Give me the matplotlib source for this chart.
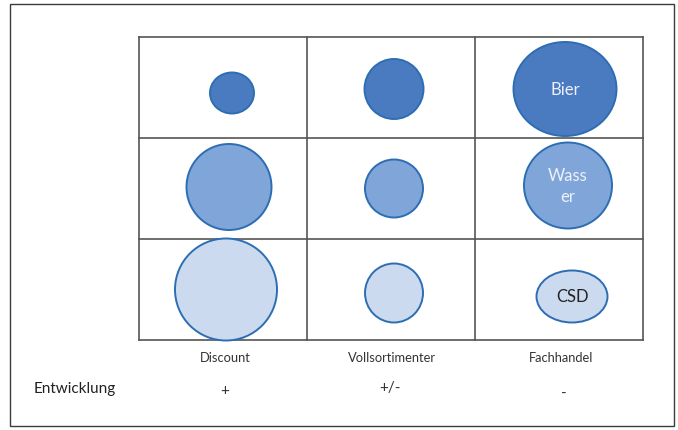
import matplotlib
matplotlib.use("Agg")
import matplotlib.pyplot as plt
from matplotlib.patches import Ellipse, Rectangle

plt.rcParams['font.family'] = ['Lato', 'DejaVu Sans']

# Kanäle (Spalten) und Produktgruppen (Zeilen)
kanaele = ['Discount', 'Vollsortimenter', 'Fachhandel']
entwicklung = ['+', '+/-', '-']
produkte = ['Bier', 'Wass\ner', 'CSD']

# Blasengröße je Zelle (Breite, Höhe)
breite = [[44, 59, 103],
          [85, 58, 88],
          [102, 58, 71]]
hoehe = [[41, 60, 94],
         [86, 58, 86],
         [102, 59, 52]]

# kleine Verschiebung der Blasen in der Zelle
versatz_x = [[9, 3, 6], [6, 3, 9], [3, 3, 13]]
versatz_y = [[5.5, 1.5, 1.5], [-1.5, 0, -3], [0, 3.5, 7]]

zeilen_farben = ['#4a7bc1', '#80a6d9', '#cbdaef']
text_farben = ['#eef0fa', '#eef0fa', '#222222']
rand_farbe = '#2d6db2'

zw, zh = 168, 101  # Zellengröße

fig = plt.figure(figsize=(6.78, 4.30), dpi=100)
fig.patches.append(Rectangle((9.5 / 678, 4 / 430), 664.5 / 678, 422 / 430,
                             transform=fig.transFigure, fill=False,
                             edgecolor='#3c3c3c', linewidth=1.0))

ax = fig.add_axes([139 / 678, 90 / 430, 504 / 678, 303 / 430])
ax.set_xlim(0, 3 * zw)
ax.set_ylim(3 * zh, 0)
ax.axis('off')

# Raster
for i in range(4):
    ax.plot([i * zw, i * zw], [0, 3 * zh], color='#555555', lw=1.2, zorder=1, clip_on=False)
    ax.plot([0, 3 * zw], [i * zh, i * zh], color='#555555', lw=1.2, zorder=1, clip_on=False)

for r in range(3):
    for c in range(3):
        cx = c * zw + zw / 2 + versatz_x[r][c]
        cy = r * zh + zh / 2 + versatz_y[r][c]
        ax.add_patch(Ellipse((cx, cy), breite[r][c], hoehe[r][c],
                             facecolor=zeilen_farben[r], edgecolor=rand_farbe,
                             linewidth=1.4, zorder=2, clip_on=False))
        if c == 2:
            ax.text(cx, cy + 1, produkte[r], ha='center', va='center', fontsize=12,
                    color=text_farben[r], linespacing=1.45, zorder=3)

# Beschriftung unten
for c in range(3):
    ax.text(c * zw + zw / 2 + [2, 1, 2][c], 3 * zh + 18, kanaele[c], ha='center', va='center',
            fontsize=9.3, color='#333333', clip_on=False)
    ax.text(c * zw + zw / 2 + [2, -1, 5][c], 3 * zh + [51, 48, 54][c], entwicklung[c],
            ha='center', va='center', fontsize=11, color='#333333', clip_on=False)
ax.text(-64, 3 * zh + 49, 'Entwicklung', ha='center', va='center',
        fontsize=11, color='#222222', clip_on=False)

fig.savefig('out.png', dpi=100)
